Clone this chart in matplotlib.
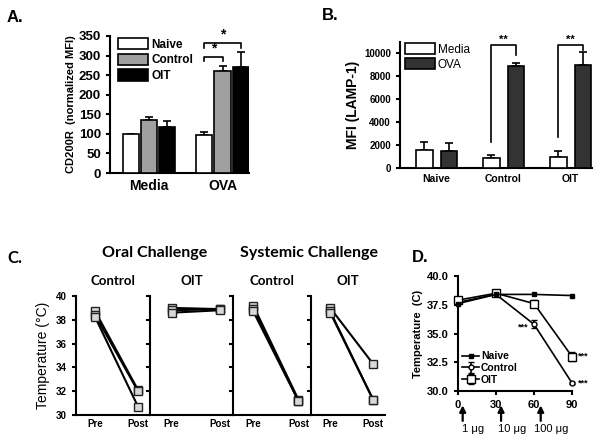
import matplotlib
matplotlib.use("Agg")
import matplotlib.pyplot as plt
import numpy as np

plt.rcParams['font.family'] = ['Liberation Sans', 'DejaVu Sans']
plt.rcParams['font.weight'] = 'bold'
plt.rcParams['axes.linewidth'] = 1.5

# ---------------- data ----------------
# Panel A
a_groups = ["Media", "OVA"]
a_series = ["Naive", "Control", "OIT"]
a_naive = [100, 98]
a_control = [136, 260]
a_oit = [117, 270]
a_naive_err = [0, 6]
a_control_err = [8, 13]
a_oit_err = [15, 40]

# Panel B
b_groups = ["Naive", "Control", "OIT"]
b_media = [1600, 900, 1000]
b_ova = [1500, 8900, 9000]
b_media_err = [700, 200, 450]
b_ova_err = [700, 300, 1100]

# Panel C
c_challenges = ["Oral Challenge", "Systemic Challenge"]
c_subgroups = ["Control", "OIT"]
c_xlabels = ["Pre", "Post"]
c_oral_control_pre = [38.7, 38.4, 38.2]
c_oral_control_post = [32.1, 32.0, 30.7]
c_oral_oit_pre = [39.0, 38.8, 38.6]
c_oral_oit_post = [38.9, 38.9, 38.8]
c_sys_control_pre = [39.2, 38.9, 38.7]
c_sys_control_post = [31.3, 31.2, 31.2]
c_sys_oit_pre = [39.0, 38.7, 38.6]
c_sys_oit_post = [34.3, 31.3, 31.3]

# Panel D
d_time = [0, 30, 60, 90]
d_naive = [37.6, 38.4, 38.4, 38.3]
d_control = [37.7, 38.4, 35.8, 30.7]
d_control_err = [0.1, 0.1, 0.35, 0.1]
d_oit = [37.9, 38.5, 37.6, 33.0]
d_oit_err = [0.1, 0.1, 0.3, 0.35]
d_doses = ["1 \u03bcg", "10 \u03bcg", "100 \u03bcg"]
d_dose_times = [3.7, 34, 65.3]

W, H = 602, 440
fig = plt.figure(figsize=(6.02, 4.40), dpi=100)


def px_axes(x0, y0, x1, y1):
    return fig.add_axes([x0 / W, 1 - y1 / H, (x1 - x0) / W, (y1 - y0) / H])


def style(ax):
    for s in ['top', 'right']:
        ax.spines[s].set_visible(False)
    ax.tick_params(width=1.5, length=3)


# ---------------- Panel A ----------------
axA = px_axes(110, 36, 249, 173)
style(axA)
xa = np.arange(len(a_groups))
bw, off = 0.22, 0.25
colorsA = ['white', '#a0a0a0', 'black']
valsA = [a_naive, a_control, a_oit]
errsA = [a_naive_err, a_control_err, a_oit_err]
for i, (name, v, e, c) in enumerate(zip(a_series, valsA, errsA, colorsA)):
    axA.bar(xa + (i - 1) * off, v, bw, color=c, edgecolor='black', linewidth=1.2,
            label=name, zorder=3)
    axA.errorbar(xa + (i - 1) * off, v, yerr=[np.zeros(len(e)), e], fmt='none',
                 ecolor='black', elinewidth=1.2, capsize=3, capthick=1.2, zorder=2)
axA.set_xlim(-0.53, 1.36)
axA.set_ylim(0, 350)
axA.set_yticks(range(0, 351, 50))
axA.set_xticks(xa)
axA.set_xticklabels(a_groups, fontsize=10, fontweight='bold')
axA.tick_params(axis='x', length=0, pad=4)
axA.tick_params(axis='y', labelsize=9.5)
axA.set_ylabel("CD200R  (normalized MFI)", fontsize=8, fontweight='bold', labelpad=2)
legA = axA.legend(loc='upper left', bbox_to_anchor=(0.02, 1.02), frameon=False,
                  fontsize=8.5, handlelength=2.6, handleheight=1.1, labelspacing=0.25,
                  handletextpad=0.3, borderaxespad=0)
# significance brackets
x1, x2, x3 = 1 - off, 1.0, 1 + off
axA.plot([x1, x1, x2, x2], [285, 296, 296, 285], color='black', lw=1.2, clip_on=False)
axA.text((x1 + x2) / 2, 299, "*", ha='center', va='bottom', fontsize=10)
axA.plot([x1, x1, x3, x3], [320, 332, 332, 320], color='black', lw=1.2, clip_on=False)
axA.text((x1 + x3) / 2, 335, "*", ha='center', va='bottom', fontsize=10)
fig.text(7 / W, 1 - 22 / H, "A.", fontsize=12, fontweight='bold')

# ---------------- Panel B ----------------
axB = px_axes(400, 42, 592, 168)
style(axB)
xb = np.arange(len(b_groups))
bwB, offB = 0.24, 0.18
axB.bar(xb - offB, b_media, bwB, color='white', edgecolor='black', lw=1.2, label='Media', zorder=3)
axB.bar(xb + offB, b_ova, bwB, color='#333333', edgecolor='black', lw=1.2, label='OVA', zorder=3)
axB.errorbar(xb - offB, b_media, yerr=[np.zeros(3), b_media_err], fmt='none', ecolor='black',
             elinewidth=1.2, capsize=3, capthick=1.2, zorder=2)
axB.errorbar(xb + offB, b_ova, yerr=[np.zeros(3), b_ova_err], fmt='none', ecolor='black',
             elinewidth=1.2, capsize=3, capthick=1.2, zorder=2)
axB.set_xlim(-0.545, 2.32)
axB.set_ylim(0, 11000)
axB.set_yticks(range(0, 10001, 2000))
axB.set_xticks(xb)
axB.set_xticklabels(b_groups, fontsize=7.5, fontweight='bold')
axB.tick_params(axis='x', length=0, pad=4)
axB.tick_params(axis='y', labelsize=7)
axB.set_ylabel("MFI (LAMP-1)", fontsize=10, fontweight='bold', labelpad=3)
axB.legend(loc='upper left', bbox_to_anchor=(0.0, 1.03), frameon=False,
           prop={'family': ['Liberation Sans Narrow', 'Liberation Sans'], 'size': 8.5, 'weight': 'normal'},
           handlelength=2.6, handleheight=1.1, labelspacing=0.2, handletextpad=0.2, borderaxespad=0)
for g, start, end in [(1, 2300, 9900), (2, 2700, 10300)]:
    axB.plot([g - offB, g - offB, g + offB, g + offB], [start, 10700, 10700, end],
             color='black', lw=1.2, clip_on=False)
    axB.text(g, 10750, "**", ha='center', va='bottom', fontsize=8)
fig.text(322 / W, 1 - 20 / H, "B.", fontsize=12, fontweight='bold')

# ---------------- Panel C ----------------
c_pre = [c_oral_control_pre, c_oral_oit_pre, c_sys_control_pre, c_sys_oit_pre]
c_post = [c_oral_control_post, c_oral_oit_post, c_sys_control_post, c_sys_oit_post]
c_bounds = [(76, 150), (150, 233), (233, 311), (311, 385)]
titlefont = ['Lato', 'DejaVu Sans']
axesC = []
for k, ((l, r), pre, post) in enumerate(zip(c_bounds, c_pre, c_post)):
    ax = px_axes(l, 296, r, 415)
    style(ax)
    for p0, p1 in zip(pre, post):
        ax.plot([0, 1], [p0, p1], color='black', lw=1.5, marker='s', ms=5.5,
                mfc='#d8d8d8', mec='#222222', mew=1.0, clip_on=False, zorder=3)
    ax.set_xlim(-0.45, 1.28)
    ax.set_ylim(30, 40)
    ax.set_yticks(range(30, 41, 2))
    ax.set_xticks([0, 1])
    ax.set_xticklabels(c_xlabels, fontsize=7, fontweight='bold')
    ax.tick_params(axis='x', length=0, pad=3)
    ax.tick_params(axis='y', labelsize=7)
    if k > 0:
        ax.set_yticklabels([])
    ax.set_title(c_subgroups[k % 2], fontsize=9.5, fontweight='bold', family=titlefont, pad=8)
    axesC.append(ax)
axesC[0].set_ylabel("Temperature (\u00b0C)", fontsize=10, fontweight='normal', labelpad=4)
fig.text((76 + 233) / 2 / W, 1 - 253 / H, c_challenges[0], ha='center', va='center',
         fontsize=11.5, fontweight='bold', family=titlefont)
fig.text((233 + 385) / 2 / W, 1 - 253 / H, c_challenges[1], ha='center', va='center',
         fontsize=11.5, fontweight='bold', family=titlefont)
fig.text(7 / W, 1 - 263 / H, "C.", fontsize=12, fontweight='bold', family=titlefont)

# ---------------- Panel D ----------------
axD = px_axes(458, 276, 572, 391)
style(axD)
axD.plot(d_time, d_naive, color='black', lw=1.2, marker='s', ms=3.5, mfc='black',
         mec='black', label='Naive', clip_on=False, zorder=4)
axD.errorbar(d_time, d_control, yerr=d_control_err, color='black', lw=1.2, marker='o', ms=3.5,
             mfc='white', mec='black', capsize=2.5, label='Control', clip_on=False, zorder=3)
axD.errorbar(d_time, d_oit, yerr=d_oit_err, color='black', lw=1.2, marker='s', ms=6,
             mfc='white', mec='black', capsize=2.5, label='OIT', clip_on=False, zorder=3)
axD.set_xlim(0, 90)
axD.set_ylim(30, 40)
axD.set_yticks([30.0, 32.5, 35.0, 37.5, 40.0])
axD.set_yticklabels(["30.0", "32.5", "35.0", "37.5", "40.0"])
axD.set_xticks(d_time)
axD.tick_params(labelsize=8)
axD.set_ylabel("Temperature  (C)", fontsize=8, fontweight='bold', labelpad=3)
axD.legend(loc='lower left', bbox_to_anchor=(0.0, 0.02), frameon=False, fontsize=7.5,
           handlelength=1.6, labelspacing=0.15, handletextpad=0.2, borderaxespad=0)
axD.text(d_time[2] - 4, d_control[2] - 0.2, "***", ha='right', va='center', fontsize=6.5)
axD.text(d_time[3] + 5, d_oit[3], "***", ha='left', va='center', fontsize=6.5, clip_on=False)
axD.text(d_time[3] + 5, d_control[3], "***", ha='left', va='center', fontsize=6.5, clip_on=False)
for t, lab in zip(d_dose_times, d_doses):
    axD.annotate("", xy=(t, 28.75), xytext=(t, 27.4), xycoords='data',
                 arrowprops=dict(arrowstyle='-|>', color='black', lw=1.6, mutation_scale=9,
                                 shrinkA=0, shrinkB=0),
                 annotation_clip=False)
    axD.text(t + 8.5, 26.7, lab, ha='center', va='center', fontsize=8, fontweight='normal',
             clip_on=False)
fig.text(412 / W, 1 - 262 / H, "D.", fontsize=12, fontweight='bold')

fig.savefig("out.png", dpi=100)
